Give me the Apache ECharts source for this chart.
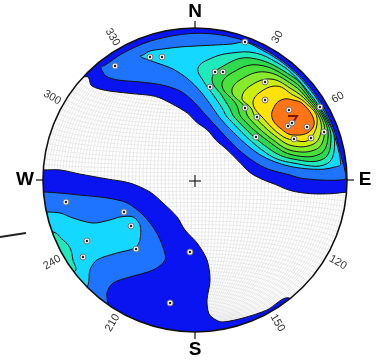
<!DOCTYPE html>
<html>
<head>
<meta charset="utf-8">
<script src="https://cdn.jsdelivr.net/npm/echarts@6/dist/echarts.min.js"></script>
<style>
  html, body { margin: 0; padding: 0; background: #fff; }
  #chart { width: 390px; height: 362px; }
</style>
</head>
<body>
<div id="chart"></div>
<script>
// Lower-hemisphere equal-area stereonet: pole density contours.
// All coordinates are in net units: primitive circle radius = 100, x = East, y = North.

const levelColors = ['#0a14f0', '#1e74ff', '#14d8ff', '#20eabb', '#2fd94f',
                     '#4ae23a', '#88ea2c', '#cdef10', '#ffe20a', '#ff7414'];

// contour level 1 (outermost), NE band and SW band
const ne1 = [[-71,68],[-68,62],[-59,59],[-43,57],[-26,55],[-15,50],[-5,44],[1,38],[8,33],[14,26],[21,20],[30,11],[36,5],[43,1],[53,-3],[63,-7],[76,-9],[89,-9],[101,-8],[140,-8],[140,140],[-140,140],[-140,62]];
const sw1 = [[-100,6.6],[-88.8,6.6],[-75.7,3.9],[-57.9,0.7],[-42.8,-2],[-29.6,-7.9],[-21.1,-15.1],[-11.8,-24.3],[-6.6,-32.9],[1.3,-41.4],[7.9,-52.6],[9.9,-65.8],[7.9,-79],[9.2,-88],[13.8,-92.1],[18.4,-93.4],[31.6,-90.8],[47.4,-85.5],[61.8,-77.6],[90,-100],[0,-140],[-140,-140],[-140,6.6]];
// level 2
const ne2 = [[-62,74.3],[-58.6,68.4],[-50.7,65.8],[-36.2,64.5],[-21.7,62.5],[-9.9,58.6],[-2,52.6],[5.3,44.7],[12.5,36.8],[20.4,28.3],[28.9,19.7],[38.2,12.5],[48,7.2],[62.5,3.3],[69.1,1.3],[82.2,0],[95.4,0],[99.3,1.3],[95.8,16.9],[91.4,33.3],[84.3,48.7],[74.5,62.5],[62.5,74.5],[48.7,84.3],[33.3,91.4],[16.8,95.5],[0,96.5],[-16.7,94.5],[-32.8,90.2],[-48,83.1],[-59.1,75.6]];
const sw2 = [[-100,-7.9],[-88.8,-8.6],[-75.7,-9.9],[-57.9,-11.8],[-44.7,-15.1],[-34.2,-23],[-26.3,-32.9],[-21.1,-44.1],[-19.7,-52.6],[-27.6,-59.2],[-42.8,-63.8],[-53.9,-67.8],[-57.9,-74.3],[-57.2,-83.6],[-60,-110],[-140,-110],[-140,-7.9]];
// level 3
const ne3 = [[-34.2,80.3],[-25,77],[-14.5,73],[-4.6,66.4],[3.3,58.6],[9.9,50],[16.4,40.8],[25.7,30.9],[34.9,22.4],[44.1,15.8],[54.6,11.2],[64.5,8.6],[75.7,7.2],[85.5,7.2],[92.1,8.6],[95.8,10.1],[93,24.9],[87.3,40.7],[78.9,55.2],[68.1,68.1],[55.2,78.9],[40.7,87.3],[32.9,90.8],[24.3,89.5],[13.2,88.8],[1.3,88.2],[-9.9,87.5],[-21.1,86.2],[-29.6,84.9],[-34.2,82.2],[-36.2,81.6]];
const sw3 = [[-97.4,-21.1],[-88.8,-21.7],[-80.3,-25],[-67.1,-28.3],[-55.9,-26.3],[-49.3,-24.3],[-40.8,-24.3],[-36.2,-29.6],[-36.2,-39.5],[-39.5,-44.7],[-51.3,-48],[-64.5,-52.6],[-69.1,-59.2],[-70.4,-69.1],[-78,-80],[-130,-80],[-130,-21.1]];
// level 4
const ne4 = [[2,73.7],[11.2,80.3],[24.3,83.6],[39.5,83.6],[53.3,77.6],[64,69.9],[77,55],[81.7,48.3],[86.4,40.8],[91.8,26],[87,10.8],[64.5,11.2],[47.1,17.6],[21.7,40.8],[17.8,47.4],[12.5,55.3],[5.9,64.5]];
const sw4 = [[-94.1,-34.2],[-86.8,-39.5],[-82.2,-44.7],[-80.3,-52.6],[-78.9,-59.9],[-100,-70],[-120,-40]];
// levels 5 - 10 (NE maximum)
const ne5 = [[64.5,67.8],[76.2,54.4],[85.5,40.8],[89.5,27],[84.6,13.9],[64.5,13.8],[49.1,20.3],[26.3,40.8],[22.4,48],[17.8,55.3],[11.2,65.8],[16.4,73.7],[36.2,80.3]];
const ne6 = [[64.5,65.1],[75.3,53.7],[84.5,40.8],[87.5,28],[82.2,17.1],[64.5,16.4],[51.7,23],[30.9,40.8],[27,50],[17.8,61.8],[23,69.7],[41.4,75.7]];
const ne7 = [[64.5,62.5],[74.3,53],[83.3,40.8],[85,29],[79.9,20.3],[64.5,19.1],[52.8,25.3],[35.5,40.8],[32.2,48.7],[24.3,57.9],[29.6,65.8],[46.1,71.1]];
const ne8 = [[64.5,59.2],[73.3,52.3],[81.9,40.8],[82.5,30],[77.5,23.4],[64.5,22.4],[54.6,27.6],[40.1,40.8],[36.8,47.4],[30.9,53.9],[36.2,61.8],[50,66.4]];
const ne9 = [[64.5,55.9],[72,51.4],[80.3,40.8],[75.1,26.6],[64.5,26.3],[56.2,29.7],[44.7,40.8],[38.2,50],[42.1,57.2],[53.9,61.8]];
const ne10 = [[64.5,52.6],[71.1,50],[78.3,39],[75,31.6],[64.5,29.6],[58.2,32.4],[50.7,40.8],[52.9,49.5],[58.3,53.2]];

// plotted poles
const poles = [
  [32.9,90.8],[13.2,71.1],[18.4,71.1],[9.9,61.2],[46.1,64.5],[46.1,52.6],[32.9,47.4],[40.8,41.4],
  [40.1,28.3],[61.8,46.1],[61.2,35.5],[63.8,37.5],[65.1,27],[73.7,34.9],[76.3,27.6],[82.2,48],[84.9,31.6],
  [-52.6,75],[-29.6,80.9],[-21.7,80.9],
  [-84.9,-14.5],[-46.7,-21.1],[-42.1,-30.3],[-71.1,-40.1],[-73.7,-50.7],[-38.8,-45.4],[-3.3,-47.4],[-16.4,-80.9]
];
// mean orientation mark
const meanMark = [[61.2,42.1],[67.1,42.1],[65.1,38.8]];

// compass and azimuth labels
const compassLabels = [['N', 0], ['E', 90], ['S', 180], ['W', 270]];
const azimuthLabels = [30, 60, 120, 150, 210, 240, 300, 330];

const contours = [
  { level: 0, pts: ne1 }, { level: 0, pts: sw1 },
  { level: 1, pts: ne2 }, { level: 1, pts: sw2 },
  { level: 2, pts: ne3 }, { level: 2, pts: sw3 },
  { level: 3, pts: ne4 }, { level: 3, pts: sw4 },
  { level: 4, pts: ne5 }, { level: 5, pts: ne6 }, { level: 6, pts: ne7 },
  { level: 7, pts: ne8 }, { level: 8, pts: ne9 }, { level: 9, pts: ne10 }
];

// Schmidt net (equal-area, lower hemisphere), 2 degree spacing
function lowerProj(x, y, z) {
  const k = 100 / Math.sqrt(1 - z);
  return [x * k, y * k];
}
const netLines = [];
for (let d = 2; d <= 90; d += 2) {
  const rd = d * Math.PI / 180;
  for (const s of (d === 90 ? [1] : [1, -1])) {
    const line = [];
    for (let i = 0; i <= 60; i++) {
      const t = Math.PI * i / 60;
      line.push(lowerProj(s * Math.cos(rd) * Math.sin(t), Math.cos(t), -Math.sin(rd) * Math.sin(t)));
    }
    netLines.push(line);
  }
}
for (let a = 2; a < 180; a += 2) {
  const ra = a * Math.PI / 180;
  const line = [];
  for (let i = 0; i <= 60; i++) {
    const t = Math.PI + Math.PI * i / 60;
    line.push(lowerProj(Math.sin(ra) * Math.cos(t), Math.cos(ra), Math.sin(ra) * Math.sin(t)));
  }
  netLines.push(line);
}

const chart = echarts.init(document.getElementById('chart'), null, { renderer: 'canvas' });

function geom(api) {
  const c = api.coord([0, 0]);
  const R = api.coord([100, 0])[0] - c[0];
  return { c, R };
}
function polar(c, R, az, off) {
  const a = az * Math.PI / 180;
  return [c[0] + Math.sin(a) * (R + off), c[1] - Math.cos(a) * (R + off)];
}

const option = {
  animation: false,
  backgroundColor: '#fff',
  grid: { left: 43, top: 28, width: 304, height: 304 },
  xAxis: { type: 'value', min: -100, max: 100, show: false },
  yAxis: { type: 'value', min: -100, max: 100, show: false },
  graphic: [{
    type: 'line', z: 100,
    shape: { x1: 0, y1: 237, x2: 26, y2: 233 },
    style: { stroke: '#222', lineWidth: 2 }
  }],
  series: [
    {
      type: 'custom', z: 1, silent: true,
      data: netLines.map((_, i) => [0, 0, i]),
      renderItem: (params, api) => ({
        type: 'polyline',
        shape: { points: netLines[params.dataIndex].map(p => api.coord(p)) },
        style: { stroke: '#d9d9d9', lineWidth: 0.5, fill: null }
      })
    },
    {
      type: 'custom', z: 2, silent: true,
      data: contours.map((_, i) => [0, 0, i]),
      renderItem: (params, api) => {
        const ct = contours[params.dataIndex];
        return {
          type: 'polygon',
          shape: { points: ct.pts.map(p => api.coord(p)), smooth: ct.level >= 3 ? 0.4 : 0.3 },
          style: { fill: levelColors[ct.level], stroke: '#111', lineWidth: 1 }
        };
      }
    },
    {
      type: 'custom', z: 3, silent: true,
      data: [[0, 0]],
      renderItem: (params, api) => {
        const { c, R } = geom(api);
        return { type: 'ring', shape: { cx: c[0], cy: c[1], r: 700, r0: R }, style: { fill: '#fff' } };
      }
    },
    {
      type: 'custom', z: 4, silent: true,
      data: [[0, 0]],
      renderItem: (params, api) => {
        const { c, R } = geom(api);
        const children = [];
        children.push({ type: 'circle', shape: { cx: c[0], cy: c[1], r: R },
          style: { fill: 'none', stroke: '#111', lineWidth: 1.6 } });
        compassLabels.forEach(([txt, az]) => {
          const p0 = polar(c, R, az, 0), p1 = polar(c, R, az, 7);
          children.push({ type: 'line', shape: { x1: p0[0], y1: p0[1], x2: p1[0], y2: p1[1] },
            style: { stroke: '#111', lineWidth: 1.2 } });
          const pt = polar(c, R, az, az === 0 ? 16 : 18);
          children.push({ type: 'text', x: pt[0], y: pt[1],
            style: { text: txt, font: 'bold 19px "Liberation Sans", Arial, sans-serif', fill: '#000',
              align: 'center', verticalAlign: 'middle', textAlign: 'center', textVerticalAlign: 'middle' } });
        });
        azimuthLabels.forEach(az => {
          const pt = polar(c, R, az, 13);
          const phi = az < 180 ? az - 90 : az - 270;
          children.push({ type: 'text', x: pt[0], y: pt[1], rotation: -phi * Math.PI / 180,
            style: { text: String(az), font: '11px "Liberation Sans", Arial, sans-serif', fill: '#333',
              align: 'center', verticalAlign: 'middle', textAlign: 'center', textVerticalAlign: 'middle' } });
        });
        children.push({ type: 'line', shape: { x1: c[0] - 6, y1: c[1] + 1, x2: c[0] + 6, y2: c[1] + 1 },
          style: { stroke: '#222', lineWidth: 1.2 } });
        children.push({ type: 'line', shape: { x1: c[0], y1: c[1] - 5, x2: c[0], y2: c[1] + 7 },
          style: { stroke: '#222', lineWidth: 1.2 } });
        return { type: 'group', children };
      }
    },
    {
      type: 'custom', z: 5, silent: true,
      data: [[0, 0]],
      renderItem: (params, api) => ({
        type: 'polyline',
        shape: { points: meanMark.map(p => api.coord(p)) },
        style: { stroke: '#7a1500', lineWidth: 2, fill: null }
      })
    },
    {
      type: 'scatter', z: 6, silent: true,
      data: poles, symbol: 'circle', symbolSize: 6,
      itemStyle: { color: '#f4f4f4', borderColor: '#777', borderWidth: 1, opacity: 1 }
    },
    {
      type: 'scatter', z: 7, silent: true,
      data: poles, symbol: 'circle', symbolSize: 2.4,
      itemStyle: { color: '#222', opacity: 1 }
    }
  ]
};
chart.setOption(option);
</script>
</body>
</html>
